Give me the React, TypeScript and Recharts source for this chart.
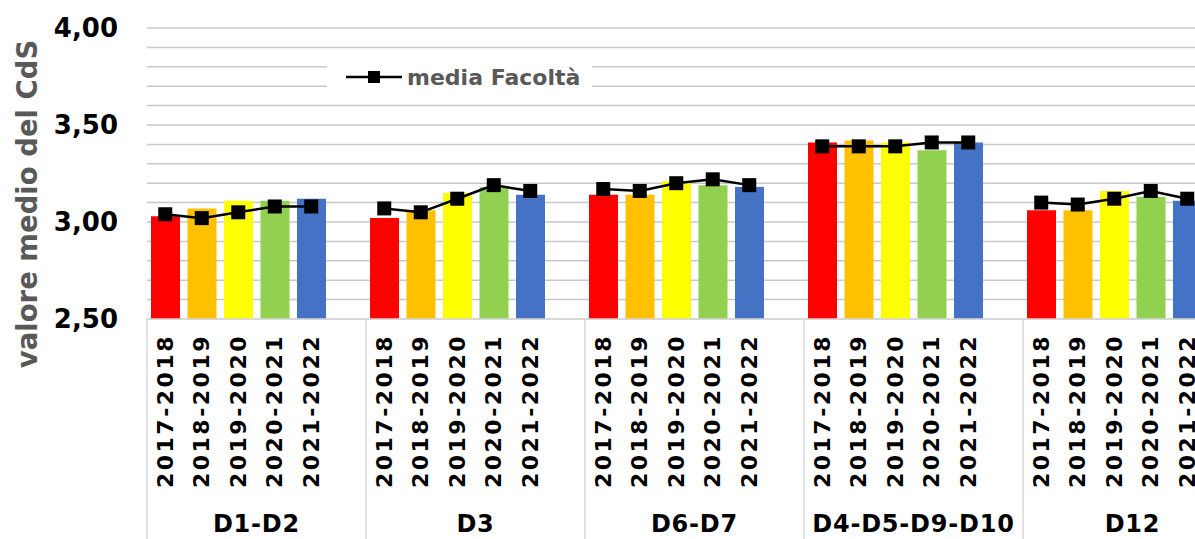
import { Bar, Cell, ComposedChart, CartesianGrid, Legend, Line, XAxis, YAxis } from "recharts";

const groups = ["D1-D2", "D3", "D6-D7", "D4-D5-D9-D10", "D12"];
const years = ["2017-2018", "2018-2019", "2019-2020", "2020-2021", "2021-2022"];
const yearColors = ["#FF0000", "#FFC000", "#FFFF00", "#92D050", "#4472C4"];

// valore medio del CdS, one array per group (same order as years)
const cdsD1D2 = [3.03, 3.07, 3.11, 3.11, 3.12];
const cdsD3 = [3.02, 3.06, 3.15, 3.18, 3.14];
const cdsD6D7 = [3.14, 3.14, 3.21, 3.19, 3.18];
const cdsD4D5D9D10 = [3.41, 3.42, 3.41, 3.37, 3.41];
const cdsD12 = [3.06, 3.06, 3.16, 3.13, 3.11];

// media Facoltà
const mediaD1D2 = [3.04, 3.02, 3.05, 3.08, 3.08];
const mediaD3 = [3.07, 3.05, 3.12, 3.19, 3.16];
const mediaD6D7 = [3.17, 3.16, 3.2, 3.22, 3.19];
const mediaD4D5D9D10 = [3.39, 3.39, 3.39, 3.41, 3.41];
const mediaD12 = [3.1, 3.09, 3.12, 3.16, 3.12];

const yTicks = [2.5, 2.6, 2.7, 2.8, 2.9, 3.0, 3.1, 3.2, 3.3, 3.4, 3.5, 3.6, 3.7, 3.8, 3.9, 4.0];

const cdsByGroup = [cdsD1D2, cdsD3, cdsD6D7, cdsD4D5D9D10, cdsD12];
const mediaByGroup = [mediaD1D2, mediaD3, mediaD6D7, mediaD4D5D9D10, mediaD12];

type Row = { key: string; group: string; year: string; yi: number; val: number | null; media: number | null };

// each group gets its 5 years plus one empty slot (gap between groups)
const rows: Row[] = [];
groups.forEach((g, gi) => {
  years.forEach((y, yi) => {
    rows.push({ key: g + "|" + y, group: g, year: y, yi, val: cdsByGroup[gi][yi], media: mediaByGroup[gi][yi] });
  });
  rows.push({ key: g + "|gap", group: g, year: "", yi: -1, val: null, media: null });
});

const FONT = "'DejaVu Sans', Verdana, sans-serif";
const CHART_W = 1245;
const CHART_H = 539;
const Y_W = 147;
const X_H = 220;
const PLOT_W = CHART_W - Y_W - 3;
const BAND = PLOT_W / rows.length;

const YTick = (props: any) => {
  const { x, y, payload } = props;
  const v = payload.value;
  if (Math.round(v * 10) % 5 !== 0) return null;
  return (
    <text x={x} y={y} dy="0.36em" textAnchor="end" fontFamily={FONT} fontWeight="bold" fontSize={26} fill="#000">
      {v.toFixed(2).replace(".", ",")}
    </text>
  );
};

const XTick = (props: any) => {
  const { x, y, index } = props;
  const row = rows[index];
  if (!row) return null;
  const slotInGroup = index % 6;
  return (
    <g>
      {row.year && (
        <text
          transform={`translate(${x},${y + 15}) rotate(-90)`}
          dy="0.35em"
          textAnchor="end"
          fontFamily={FONT}
          fontWeight="bold"
          fontSize={22}
          letterSpacing={2.5}
          fill="#000"
        >
          {row.year}
        </text>
      )}
      {slotInGroup === 0 && (
        <>
          <line x1={x - BAND / 2} x2={x - BAND / 2} y1={y} y2={y + X_H} stroke="#d9d9d9" strokeWidth={1.5} />
          <text
            x={x + BAND * 2.5}
            y={y + 213}
            textAnchor="middle"
            fontFamily={FONT}
            fontWeight="bold"
            fontSize={24}
            letterSpacing={0.8}
            fill="#000"
          >
            {row.group}
          </text>
        </>
      )}
    </g>
  );
};

const SquareDot = (props: any) => {
  const { cx, cy, value } = props;
  if (value == null || cx == null || cy == null) return null;
  return <rect x={cx - 7} y={cy - 7} width={14} height={14} fill="#000" />;
};

const LegendBox = () => (
  <div style={{ display: "flex", alignItems: "center", height: "100%", fontFamily: FONT }}>
    <svg width={80} height={20} style={{ display: "block" }}>
      <line x1={19} x2={75} y1={10} y2={10} stroke="#000" strokeWidth={2.5} />
      <rect x={41} y={4} width={12} height={12} fill="#000" />
    </svg>
    <span style={{ fontWeight: "bold", fontSize: 22, color: "#595959" }}>media Facoltà</span>
  </div>
);

const YTitle = () => (
  <text
    transform="translate(37,204) rotate(-90)"
    textAnchor="middle"
    fontFamily={FONT}
    fontWeight="bold"
    fontSize={27.5}
    fill="#595959"
  >
    valore medio del CdS
  </text>
);

export default function App() {
  return (
    <div style={{ position: "fixed", left: 0, top: 0, width: 1195, height: 539, overflow: "hidden", background: "#fff" }}>
      <ComposedChart
        width={CHART_W}
        height={CHART_H}
        data={rows}
        margin={{ top: 28, right: 3, bottom: 0, left: 0 }}
      >
        <CartesianGrid vertical={false} stroke="#c8c8c8" strokeWidth={1.5} />
        <XAxis
          dataKey="key"
          interval={0}
          height={X_H}
          tickLine={false}
          tickSize={0}
          tickMargin={0}
          axisLine={{ stroke: "#d9d9d9", strokeWidth: 1.5 }}
          tick={<XTick />}
        />
        <YAxis
          width={Y_W}
          domain={[2.5, 4]}
          ticks={yTicks}
          interval={0}
          allowDataOverflow
          axisLine={false}
          tickLine={false}
          tickSize={0}
          tickMargin={29}
          tick={<YTick />}
          label={{ content: () => <YTitle /> }}
        />
        <Legend
          layout="horizontal"
          verticalAlign="middle"
          align="center"
          content={() => <LegendBox />}
          wrapperStyle={{ position: "absolute", left: 327, top: 56, width: 265, height: 42, background: "#fff" }}
        />
        <Bar dataKey="val" barSize={29} isAnimationActive={false}>
          {rows.map((r) => (
            <Cell key={r.key} fill={r.yi >= 0 ? yearColors[r.yi] : "transparent"} />
          ))}
        </Bar>
        <Line
          dataKey="media"
          stroke="#000"
          strokeWidth={2.5}
          dot={<SquareDot />}
          activeDot={false}
          isAnimationActive={false}
        />
      </ComposedChart>
    </div>
  );
}
